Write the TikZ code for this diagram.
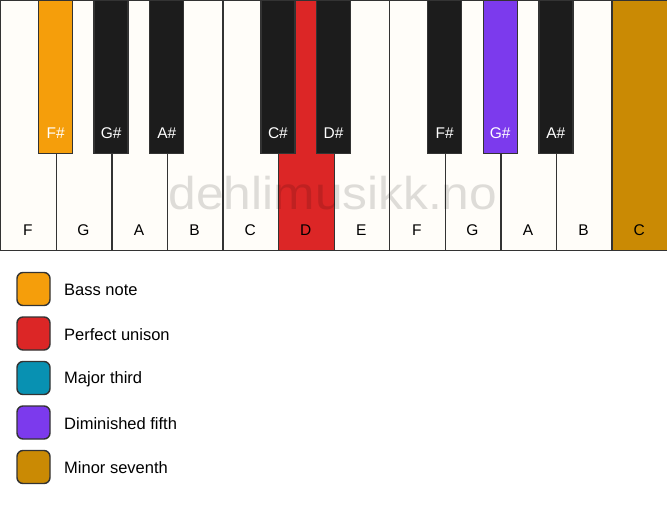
\documentclass[tikz,border=0pt]{standalone}
\usepackage{fontspec}
\setmainfont{Liberation Sans}
\definecolor{ivory}{HTML}{FFFDF9}
\definecolor{keyblack}{HTML}{1C1C1C}
\definecolor{keyline}{HTML}{333333}
\definecolor{cbass}{HTML}{F59E0B}
\definecolor{cunison}{HTML}{DC2626}
\definecolor{cthird}{HTML}{0891B2}
\definecolor{cfifth}{HTML}{7C3AED}
\definecolor{cseventh}{HTML}{CA8A04}
\tikzset{
  whitekey/.style={draw=keyline, line width=1.4pt, fill=ivory, minimum width=55.583pt, minimum height=250pt, inner sep=0pt, anchor=north west},
  blackkey/.style={draw=keyline, line width=1.4pt, fill=keyblack, minimum width=34pt, minimum height=153pt, inner sep=0pt, anchor=north},
  wlabel/.style={font=\fontsize{15.5}{18}\selectfont, text=black},
  blabel/.style={font=\fontsize{15.5}{18}\selectfont, text=white},
  legbox/.style={draw=keyline, line width=1.4pt, rounded corners=6pt, minimum width=33pt, minimum height=33pt, inner sep=0pt},
  legtext/.style={font=\fontsize{16.5}{19}\selectfont, anchor=west, inner sep=0pt}
}
\begin{document}
\begin{tikzpicture}[x=1pt,y=-1pt]
\useasboundingbox[fill=white] (0,0) rectangle (667,506);
% white keys
\foreach \i/\n/\c in {0/F/ivory,1/G/ivory,2/A/ivory,3/B/ivory,4/C/ivory,5/D/cunison,6/E/ivory,7/F/ivory,8/G/ivory,9/A/ivory,10/B/ivory,11/C/cseventh}{
  \node[whitekey, fill=\c] (w\i) at ({\i*55.583},0) {};
  \node[wlabel] (wl\i) at ({\i*55.583+27.79},230) {\n};
}
% watermark
\node[font=\fontsize{46}{50}\selectfont, text=black, text opacity=0.13, xscale=1.08] (wm) at (333,193) {dehlimusikk.no};
% black keys
\foreach \b/\n/\c in {1/F\#/cbass,2/G\#/keyblack,3/A\#/keyblack,5/C\#/keyblack,6/D\#/keyblack,8/F\#/keyblack,9/G\#/cfifth,10/A\#/keyblack}{
  \node[blackkey, fill=\c] (b\b) at ({\b*55.583},0) {};
  \node[blabel] (bl\b) at ({\b*55.583},133) {\n};
}
% legend
\foreach \k/\c/\t [count=\j from 0] in {a/cbass/Bass note, b/cunison/Perfect unison, c/cthird/Major third, d/cfifth/Diminished fifth, e/cseventh/Minor seventh}{
  \node[legbox, fill=\c] (lb\k) at (33.5,{289+\j*44.5}) {};
  \node[legtext] (lt\k) at (64,{290+\j*44.5}) {\t};
}
\end{tikzpicture}
\end{document}
